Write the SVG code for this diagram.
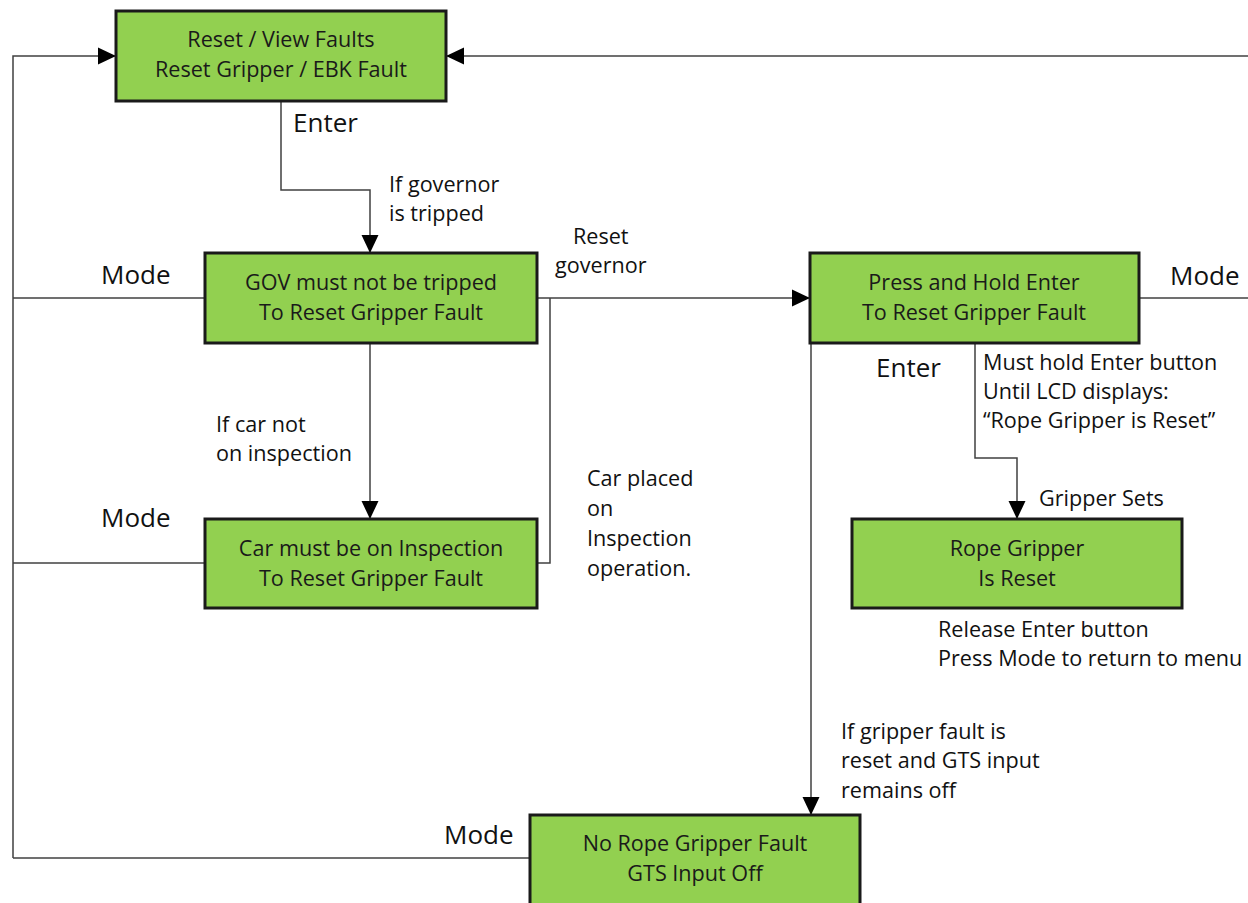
<svg xmlns="http://www.w3.org/2000/svg" width="1248" height="903" viewBox="0 0 1248 903">
<defs>
<marker id="arr" markerUnits="userSpaceOnUse" markerWidth="20" markerHeight="20" viewBox="0 0 20 20" refX="18" refY="10" orient="auto">
<path d="M0,1.5 L18,10 L0,18.5 Z" fill="#000"/>
</marker>
</defs>
<style>
.box{fill:#92d050;stroke:#1a1a1a;stroke-width:3}
.bt{font-family:"Open Sans","Liberation Sans",Arial,sans-serif;font-size:21.6px;fill:#1a1a1a;text-anchor:middle}
.lb{font-family:"Open Sans","Liberation Sans",Arial,sans-serif;font-size:21.6px;fill:#111}
.big{font-family:"Open Sans","Liberation Sans",Arial,sans-serif;font-size:26px;fill:#111}
.ln{fill:none;stroke:#404040;stroke-width:1.5}
</style>
<rect width="1248" height="903" fill="#fff"/>
<g id="connectors">
<path class="ln" d="M13,858 L13,56 L116,56" marker-end="url(#arr)"/>
<path class="ln" d="M1248,56 L446,56" marker-end="url(#arr)"/>
<path class="ln" d="M281,101 L281,190 L370,190 L370,253" marker-end="url(#arr)"/>
<path class="ln" d="M13,298 L205,298"/>
<path class="ln" d="M537,298 L810,298" marker-end="url(#arr)"/>
<path class="ln" d="M550,298 L550,563 L537,563"/>
<path class="ln" d="M370,343 L370,519" marker-end="url(#arr)"/>
<path class="ln" d="M13,563 L205,563"/>
<path class="ln" d="M1139,298 L1248,298"/>
<path class="ln" d="M975,343 L975,458 L1017,458 L1017,519" marker-end="url(#arr)"/>
<path class="ln" d="M811,343 L811,815" marker-end="url(#arr)"/>
<path class="ln" d="M13,858 L530,858"/>
</g>
<g id="n-reset">
<rect class="box" x="116" y="11" width="330" height="90"/>
<text class="bt" x="281" y="47">Reset / View Faults</text>
<text class="bt" x="281" y="77">Reset Gripper / EBK Fault</text>
</g>
<g id="n-gov">
<rect class="box" x="205" y="253" width="332" height="90"/>
<text class="bt" x="371" y="290">GOV must not be tripped</text>
<text class="bt" x="371" y="320">To Reset Gripper Fault</text>
</g>
<g id="n-car">
<rect class="box" x="205" y="519" width="332" height="89"/>
<text class="bt" x="371" y="556">Car must be on Inspection</text>
<text class="bt" x="371" y="586">To Reset Gripper Fault</text>
</g>
<g id="n-press">
<rect class="box" x="810" y="253" width="329" height="90"/>
<text class="bt" x="974" y="290">Press and Hold Enter</text>
<text class="bt" x="974" y="320">To Reset Gripper Fault</text>
</g>
<g id="n-rope">
<rect class="box" x="852" y="519" width="330" height="89"/>
<text class="bt" x="1017" y="556">Rope Gripper</text>
<text class="bt" x="1017" y="586">Is Reset</text>
</g>
<g id="n-norope">
<rect class="box" x="530" y="815" width="330" height="100"/>
<text class="bt" x="695" y="851">No Rope Gripper Fault</text>
<text class="bt" x="695" y="881">GTS Input Off</text>
</g>
<g id="labels">
<text class="big" x="293" y="132">Enter</text>
<text class="lb" x="389" y="192">If governor</text>
<text class="lb" x="389" y="221">is tripped</text>
<text class="big" x="101" y="284">Mode</text>
<text class="lb" x="573" y="244">Reset</text>
<text class="lb" x="555" y="273">governor</text>
<text class="lb" x="216" y="432">If car not</text>
<text class="lb" x="216" y="461">on inspection</text>
<text class="big" x="101" y="527">Mode</text>
<text class="lb" x="587" y="486">Car placed</text>
<text class="lb" x="587" y="516">on</text>
<text class="lb" x="587" y="546">Inspection</text>
<text class="lb" x="587" y="576">operation.</text>
<text class="big" x="1170" y="285">Mode</text>
<text class="big" x="876" y="377">Enter</text>
<text class="lb" x="983" y="370">Must hold Enter button</text>
<text class="lb" x="983" y="399">Until LCD displays:</text>
<text class="lb" x="983" y="428">“Rope Gripper is Reset”</text>
<text class="lb" x="1039" y="506">Gripper Sets</text>
<text class="lb" x="938" y="637">Release Enter button</text>
<text class="lb" x="938" y="666">Press Mode to return to menu</text>
<text class="lb" x="841" y="739">If gripper fault is</text>
<text class="lb" x="841" y="768">reset and GTS input</text>
<text class="lb" x="841" y="798">remains off</text>
<text class="big" x="444" y="844">Mode</text>
</g>
</svg>
